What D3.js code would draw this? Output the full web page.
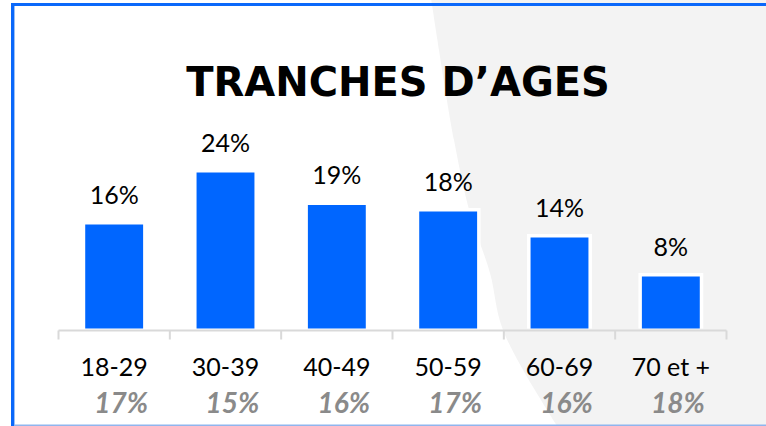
<!DOCTYPE html>
<html>
<head>
<meta charset="utf-8">
<script src="https://cdn.jsdelivr.net/npm/d3@7"></script>
<style>
  html, body { margin: 0; padding: 0; background: #ffffff; }
  svg { display: block; }
  text { font-family: Lato, "Open Sans", sans-serif; }
</style>
</head>
<body>
<svg id="chart" width="766" height="426"></svg>
<script>
// Age groups and their share of respondents
const categories = ["18-29", "30-39", "40-49", "50-59", "60-69", "70 et +"];
const shares = [16, 24, 19, 18, 14, 8];
// Reference share shown in grey under each age group
const referenceShares = [17, 15, 16, 17, 16, 18];
const title = "TRANCHES D\u2019AGES";

const W = 766, H = 426;
const svg = d3.select("#chart");

// Page background: white with a soft grey curved panel on the right
svg.append("rect").attr("width", W).attr("height", H).attr("fill", "#ffffff");
const panelEdge = [[431, -2], [454, 140], [470, 213], [490, 273], [503, 330], [557, 426], [566, 440]];
const edgeLine = d3.line().curve(d3.curveCatmullRom.alpha(0.5));
svg.append("path")
  .attr("d", edgeLine(panelEdge) + `L${W + 2},440L${W + 2},-2Z`)
  .attr("fill", "#f3f3f3");

// Frame lines
svg.append("rect").attr("x", 11).attr("y", 3).attr("width", W - 11).attr("height", 3).attr("fill", "#0a68fa");
svg.append("rect").attr("x", 11).attr("y", 3).attr("width", 3).attr("height", H - 3).attr("fill", "#0a68fa");
svg.append("rect").attr("x", 14).attr("y", 6).attr("width", 1).attr("height", H - 6).attr("fill", "#9cc0f5");
svg.append("rect").attr("x", 14).attr("y", 424.5).attr("width", W - 14).attr("height", 1.5).attr("fill", "#8fb5ee");

// Title
svg.append("text")
  .attr("x", 398).attr("y", 96)
  .attr("text-anchor", "middle")
  .style("font-family", "'DejaVu Sans', sans-serif")
  .attr("font-size", 40).attr("font-weight", 700)
  .attr("fill", "#000")
  .text(title);

// Scales
const x = d3.scaleBand()
  .domain(categories)
  .range([58.5, 726.5])
  .paddingInner(0.48)
  .paddingOuter(0.24);

const y = d3.scaleLinear()
  .domain([0, 24])
  .range([328.5, 172.5]);

const data = categories.map((c, i) => ({ cat: c, v: shares[i], ref: referenceShares[i] }));

// Bars: white halo behind a blue fill
const bars = svg.append("g");
bars.selectAll("rect.halo")
  .data(data).join("rect")
  .attr("class", "halo")
  .attr("x", d => x(d.cat) - 3.5)
  .attr("y", d => y(d.v) - 3.5)
  .attr("width", x.bandwidth() + 7)
  .attr("height", d => y(0) - y(d.v) + 3.5)
  .attr("fill", "#ffffff");
bars.selectAll("rect.bar")
  .data(data).join("rect")
  .attr("class", "bar")
  .attr("x", d => x(d.cat))
  .attr("y", d => y(d.v))
  .attr("width", x.bandwidth())
  .attr("height", d => y(0) - y(d.v))
  .attr("fill", "#0066ff");

// Category axis with ticks on band boundaries
const axisY = 330.5;
const gap = x.step() - x.bandwidth();
const bounds = categories.map(c => x(c) - gap / 2).concat([x.range()[1]]);
const axis = svg.append("g").attr("stroke", "#d9d9d9").attr("stroke-width", 2);
axis.append("line")
  .attr("x1", x.range()[0]).attr("x2", x.range()[1])
  .attr("y1", axisY).attr("y2", axisY);
axis.selectAll("line.tick")
  .data(bounds).join("line")
  .attr("class", "tick")
  .attr("x1", d => d).attr("x2", d => d)
  .attr("y1", axisY).attr("y2", axisY + 9);

// Value labels above bars
svg.append("g").selectAll("text")
  .data(data).join("text")
  .attr("x", d => x(d.cat) + x.bandwidth() / 2)
  .attr("y", d => y(d.v) - 21)
  .attr("text-anchor", "middle")
  .attr("font-size", 25)
  .attr("fill", "#000")
  .text(d => d.v + "%");

// Category labels
svg.append("g").selectAll("text")
  .data(data).join("text")
  .attr("x", d => x(d.cat) + x.bandwidth() / 2)
  .attr("y", 376)
  .attr("text-anchor", "middle")
  .attr("font-size", 25)
  .attr("fill", "#000")
  .text(d => d.cat);

// Reference shares in grey italics
svg.append("g").selectAll("text")
  .data(data).join("text")
  .attr("x", d => x(d.cat) + x.bandwidth() / 2 + 7)
  .attr("y", 413)
  .attr("text-anchor", "middle")
  .attr("font-size", 28)
  .attr("font-weight", 700)
  .attr("font-style", "italic")
  .attr("fill", "#8a8a8a")
  .text(d => d.ref + "%");
</script>
</body>
</html>
